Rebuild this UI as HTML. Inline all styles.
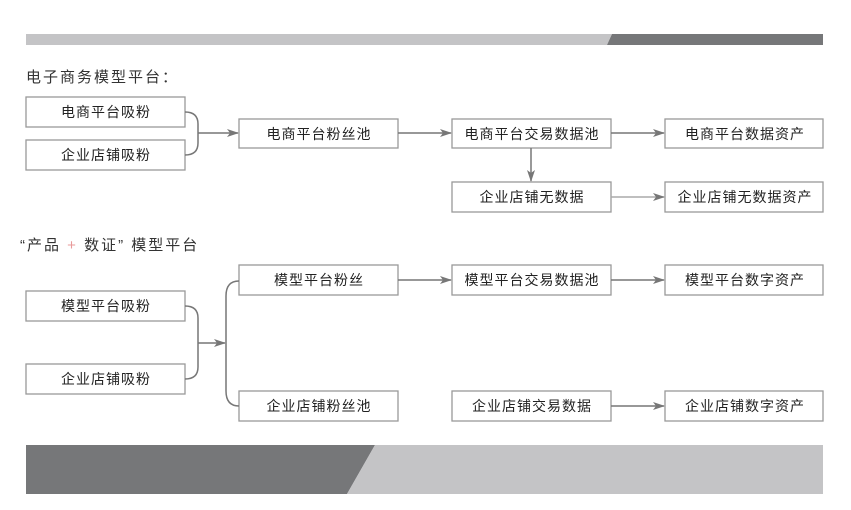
<!DOCTYPE html>
<html><head><meta charset="utf-8"><style>
html,body{margin:0;padding:0;background:#fff;}
svg{display:block}
text{font-family:"Liberation Sans","Noto Sans CJK SC",sans-serif;font-size:14px;fill:#222;letter-spacing:1px}
.b{fill:#fff;stroke:#999;stroke-width:1.3}
.l{stroke:#777;stroke-width:1.5;fill:none}
</style></head><body>
<svg width="851" height="510" viewBox="0 0 851 510">
<defs><marker id="a" markerWidth="12" markerHeight="8" refX="11" refY="4" orient="auto" markerUnits="userSpaceOnUse"><path d="M0,0 L12,4 L0,8 L3,4z" fill="#777"/></marker></defs>
<polygon points="26,34 612,34 607,45 26,45" fill="#c4c4c6"/>
<polygon points="612,34 823,34 823,45 607,45" fill="#767779"/>
<polygon points="26,445 375,445 347,494 26,494" fill="#767779"/>
<polygon points="375,445 823,445 823,494 347,494" fill="#c4c4c6"/>
<text x="26" y="82" style="font-size:15px;fill:#333;letter-spacing:2px">电子商务模型平台：</text>
<text x="20" y="250" style="font-size:15px;fill:#333;letter-spacing:2px">“产品 <tspan style="fill:#e89a9a">+</tspan> 数证” 模型平台</text>
<g>
<rect class="b" x="26" y="97" width="159" height="30"/><text x="106" y="117" text-anchor="middle">电商平台吸粉</text>
<rect class="b" x="26" y="140" width="159" height="30"/><text x="106" y="160" text-anchor="middle">企业店铺吸粉</text>
<rect class="b" x="239" y="119" width="159" height="29"/><text x="319" y="139" text-anchor="middle">电商平台粉丝池</text>
<rect class="b" x="452" y="119" width="159" height="29"/><text x="532" y="139" text-anchor="middle">电商平台交易数据池</text>
<rect class="b" x="665" y="119" width="158" height="29"/><text x="745" y="139" text-anchor="middle">电商平台数据资产</text>
<rect class="b" x="452" y="182" width="159" height="30"/><text x="532" y="202" text-anchor="middle">企业店铺无数据</text>
<rect class="b" x="665" y="182" width="158" height="30"/><text x="745" y="202" text-anchor="middle">企业店铺无数据资产</text>

<rect class="b" x="239" y="265" width="159" height="30"/><text x="319" y="285" text-anchor="middle">模型平台粉丝</text>
<rect class="b" x="452" y="265" width="159" height="30"/><text x="532" y="285" text-anchor="middle">模型平台交易数据池</text>
<rect class="b" x="665" y="265" width="158" height="30"/><text x="745" y="285" text-anchor="middle">模型平台数字资产</text>
<rect class="b" x="26" y="291" width="159" height="30"/><text x="106" y="311" text-anchor="middle">模型平台吸粉</text>
<rect class="b" x="26" y="364" width="159" height="30"/><text x="106" y="384" text-anchor="middle">企业店铺吸粉</text>
<rect class="b" x="239" y="391" width="159" height="30"/><text x="319" y="411" text-anchor="middle">企业店铺粉丝池</text>
<rect class="b" x="452" y="391" width="159" height="30"/><text x="532" y="411" text-anchor="middle">企业店铺交易数据</text>
<rect class="b" x="665" y="391" width="158" height="30"/><text x="745" y="411" text-anchor="middle">企业店铺数字资产</text>
</g>
<path class="l" d="M185,112 Q198,112 198,124 L198,143 Q198,155 185,155"/>
<line class="l" x1="198" y1="133" x2="238" y2="133" marker-end="url(#a)"/>
<line class="l" x1="398" y1="133" x2="451" y2="133" marker-end="url(#a)"/>
<line class="l" x1="611" y1="133" x2="664" y2="133" marker-end="url(#a)"/>
<line class="l" x1="531" y1="148" x2="531" y2="181" marker-end="url(#a)"/>
<line class="l" x1="611" y1="197" x2="664" y2="197" marker-end="url(#a)" style="stroke:#aaa"/>

<path class="l" d="M185,306 Q198,306 198,318 L198,367 Q198,379 185,379"/>
<line class="l" x1="198" y1="343" x2="225" y2="343" marker-end="url(#a)"/>
<path class="l" d="M239,281 Q226,281 226,296 L226,391 Q226,406 239,406"/>
<line class="l" x1="398" y1="280" x2="451" y2="280" marker-end="url(#a)"/>
<line class="l" x1="611" y1="280" x2="664" y2="280" marker-end="url(#a)"/>
<line class="l" x1="611" y1="406" x2="664" y2="406" marker-end="url(#a)"/>
</svg>
</body></html>
